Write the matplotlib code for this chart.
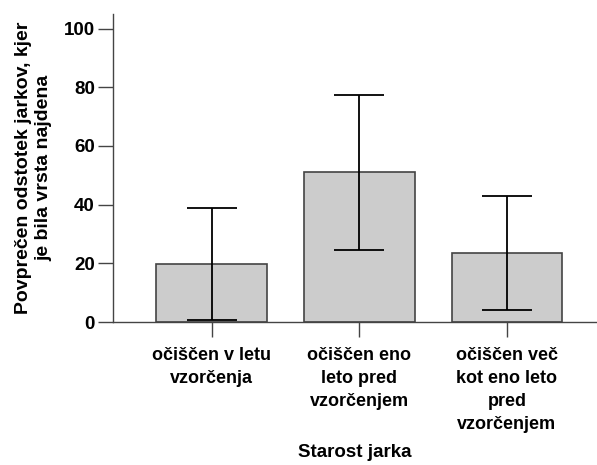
import matplotlib
matplotlib.use('Agg')
import matplotlib.pyplot as plt

# Data
categories = ['očiščen v letu\nvzorčenja',
              'očiščen eno\nleto pred\nvzorčenjem',
              'očiščen več\nkot eno leto\npred\nvzorčenjem']
means = [19.8, 51.0, 23.4]
ci_low = [0.8, 24.7, 4.0]
ci_high = [38.9, 77.5, 42.8]

plt.rcParams['font.family'] = ['Liberation Sans', 'DejaVu Sans']

fig = plt.figure(figsize=(5.97, 4.65), dpi=100)
ax = fig.add_axes([0.189, 0.3075, 0.811, 0.6625])

x = range(len(categories))
ax.bar(x, means, width=0.75, color='#cccccc', edgecolor='#444444',
       linewidth=1.2, zorder=2)

err_lo = [m - lo for m, lo in zip(means, ci_low)]
err_hi = [hi - m for m, hi in zip(means, ci_high)]
ax.errorbar(x, means, yerr=[err_lo, err_hi], fmt='none', ecolor='black',
            elinewidth=1.3, capsize=18, capthick=1.3, zorder=3)

ax.set_ylim(0, 105)
ax.set_xlim(-0.67, 2.61)
ax.set_yticks([0, 20, 40, 60, 80, 100])
ax.set_xticks(list(x))
ax.set_xticklabels(categories, fontsize=13, fontweight='bold', linespacing=1.45)
ax.tick_params(axis='y', labelsize=13.5, length=11, width=1, color='#444444', pad=2)
ax.tick_params(axis='x', length=11, width=1, color='#444444', pad=7)
for lab in ax.get_yticklabels():
    lab.set_fontweight('bold')

for s in ['top', 'right']:
    ax.spines[s].set_visible(False)
for s in ['left', 'bottom']:
    ax.spines[s].set_color('#444444')
    ax.spines[s].set_linewidth(1)

ax.set_ylabel('Povprečen odstotek jarkov, kjer\nje bila vrsta najdena',
              fontsize=14, fontweight='bold', labelpad=8, linespacing=1.25)
ax.set_xlabel('Starost jarka', fontsize=13.5, fontweight='bold', va='center')
ax.xaxis.set_label_coords(0.5, (322 - 452) / 308)

fig.savefig('out.png', dpi=100)
